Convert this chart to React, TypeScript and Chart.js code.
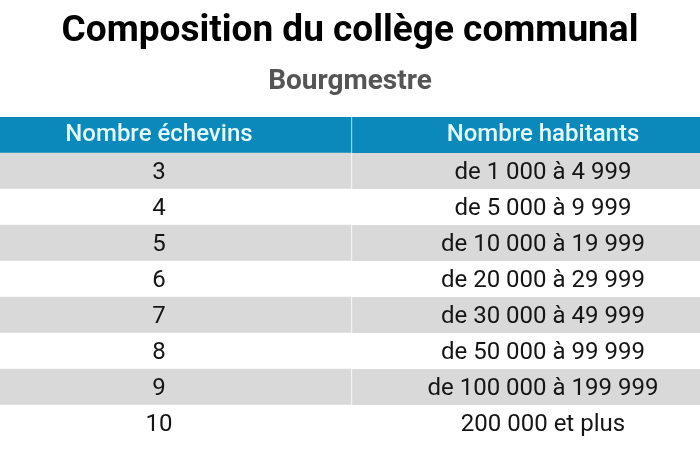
import React, { useEffect, useRef } from "react";
import { Chart, registerables } from "chart.js";

Chart.register(...registerables);

const titleText = "Composition du collège communal";
const subtitleText = "Bourgmestre";
const columnHeaders = ["Nombre échevins", "Nombre habitants"];
const echevins = ["3", "4", "5", "6", "7", "8", "9", "10"];
const habitants = [
  "de 1 000 à 4 999",
  "de 5 000 à 9 999",
  "de 10 000 à 19 999",
  "de 20 000 à 29 999",
  "de 30 000 à 49 999",
  "de 50 000 à 99 999",
  "de 100 000 à 199 999",
  "200 000 et plus",
];

const FONT = "Roboto, 'Noto Sans', sans-serif";
const HEADER_BG = "#0a89ba";
const GRAY_BG = "#d9d9d9";
const WHITE_BG = "#ffffff";

export default function App() {
  const canvasRef = useRef<HTMLCanvasElement | null>(null);

  useEffect(() => {
    const canvas = canvasRef.current;
    if (!canvas) return;

    const rowLabels = ["header", ...echevins];
    const rowColors = rowLabels.map((_, i) =>
      i === 0 ? HEADER_BG : i % 2 === 1 ? GRAY_BG : WHITE_BG
    );
    const dividerColors = rowLabels.map((_, i) =>
      i === 0 ? "#d6f1fa" : "#ffffff"
    );
    const col1Text = [columnHeaders[0], ...echevins];
    const col2Text = [columnHeaders[1], ...habitants];
    const cellTexts = [col1Text, col2Text];

    const cellTextPlugin = {
      id: "cellText",
      afterDatasetsDraw(chart: any) {
        const ctx = chart.ctx;
        ctx.save();
        ctx.textAlign = "center";
        ctx.textBaseline = "middle";
        chart.data.datasets.forEach((_: any, di: number) => {
          const meta = chart.getDatasetMeta(di);
          meta.data.forEach((el: any, i: number) => {
            const c = el.getCenterPoint();
            const isHeader = i === 0;
            ctx.fillStyle = isHeader ? "#e4fbff" : "#151515";
            ctx.font = `${isHeader ? "500" : "400"} 24px ${FONT}`;
            ctx.fillText(cellTexts[di][i], c.x, c.y + (isHeader ? 0 : 2));
          });
        });
        ctx.restore();
      },
    };

    const chart = new Chart(canvas, {
      type: "bar",
      data: {
        labels: rowLabels,
        datasets: [
          {
            data: rowLabels.map(() => [0, 1]) as any,
            backgroundColor: rowColors,
            borderWidth: 0,
            grouped: false,
            categoryPercentage: 1,
            barPercentage: 1,
          },
          {
            data: rowLabels.map(() => [1, 2]) as any,
            backgroundColor: rowColors,
            borderColor: dividerColors,
            borderWidth: { left: 1.5, right: 0, top: 0, bottom: 0 },
            borderSkipped: false,
            grouped: false,
            categoryPercentage: 1,
            barPercentage: 1,
          },
        ],
      },
      options: {
        indexAxis: "y",
        responsive: true,
        maintainAspectRatio: false,
        animation: false,
        layout: { padding: { top: 0, bottom: 9, left: 0, right: 0 } },
        scales: {
          x: { type: "linear", min: 0.086, max: 1.909, display: false },
          y: { type: "category", display: false, offset: true },
        },
        plugins: {
          legend: { display: false },
          tooltip: { enabled: false },
          title: {
            display: true,
            text: titleText,
            color: "#000000",
            font: { family: FONT, size: 37, weight: "bold", lineHeight: 1.2 },
            padding: { top: 10, bottom: 5 },
          },
          subtitle: {
            display: true,
            text: subtitleText,
            color: "#555555",
            font: { family: FONT, size: 28, weight: "bold", lineHeight: 1.2 },
            padding: { top: 6, bottom: 18 },
          },
        },
      },
      plugins: [cellTextPlugin],
    });

    return () => chart.destroy();
  }, []);

  return (
    <div style={{ position: "fixed", left: 0, top: 0, width: 700, height: 450, background: "#ffffff" }}>
      <canvas ref={canvasRef} />
    </div>
  );
}
